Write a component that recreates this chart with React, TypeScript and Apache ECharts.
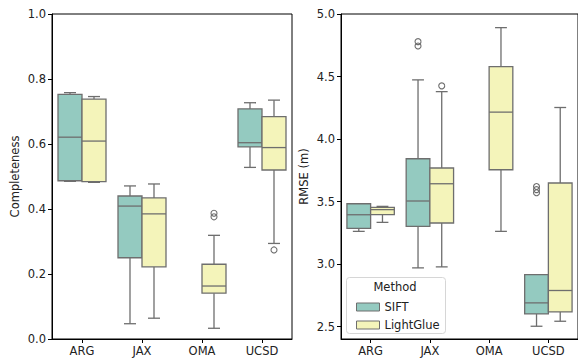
import React, { useEffect, useRef } from "react";
import * as echarts from "echarts";

const categories = ["ARG", "JAX", "OMA", "UCSD"];
const methods = ["SIFT", "LightGlue"];

// each entry: [whiskerLow, q1, median, q3, whiskerHigh]; null = no data
const completenessSIFT = [
  [0.485, 0.487, 0.621, 0.753, 0.758],
  [0.047, 0.25, 0.409, 0.44, 0.471],
  null,
  [0.528, 0.591, 0.604, 0.708, 0.727],
];
const completenessLightGlue = [
  [0.482, 0.484, 0.609, 0.738, 0.746],
  [0.064, 0.222, 0.385, 0.434, 0.477],
  [0.033, 0.141, 0.163, 0.23, 0.319],
  [0.294, 0.52, 0.589, 0.684, 0.735],
];
const completenessOutliersSIFT: [number, number][] = [];
const completenessOutliersLightGlue: [number, number][] = [
  [2, 0.387],
  [2, 0.376],
  [3, 0.274],
];

const rmseSIFT = [
  [3.261, 3.285, 3.394, 3.482, 3.482],
  [2.969, 3.301, 3.504, 3.842, 4.473],
  null,
  [2.502, 2.601, 2.689, 2.915, 2.915],
];
const rmseLightGlue = [
  [3.333, 3.395, 3.435, 3.453, 3.461],
  [2.977, 3.328, 3.642, 3.768, 4.379],
  [3.261, 3.754, 4.215, 4.579, 4.891],
  [2.542, 2.617, 2.788, 3.648, 4.252],
];
const rmseOutliersSIFT: [number, number][] = [
  [1, 4.779],
  [1, 4.744],
  [3, 3.62],
  [3, 3.595],
  [3, 3.57],
];
const rmseOutliersLightGlue: [number, number][] = [[1, 4.425]];

const leftTicks = [0, 0.2, 0.4, 0.6, 0.8, 1.0];
const rightTicks = [2.5, 3.0, 3.5, 4.0, 4.5, 5.0];

const COLORS: Record<string, string> = { SIFT: "#94cac0", LightGlue: "#f4f4ba" };
const LINE = "#6e6e6e";
const LW = 1.3;
const FONT = "DejaVu Sans";
const TEXT = "#222";

function boxData(stats: (number[] | null)[]) {
  const out: number[][] = [];
  stats.forEach((s, i) => {
    if (s) out.push([i, ...s]);
  });
  return out;
}

function makeBoxSeries(name: string, stats: (number[] | null)[], axisIndex: number) {
  const sign = name === "SIFT" ? -1 : 1;
  const fill = COLORS[name];
  return {
    type: "custom",
    name,
    xAxisIndex: axisIndex,
    yAxisIndex: axisIndex,
    itemStyle: { color: fill, borderColor: LINE },
    encode: { x: 0, y: [1, 2, 3, 4, 5] },
    data: boxData(stats),
    renderItem: (_params: any, api: any) => {
      const idx = api.value(0);
      const band = api.size([1, 0])[0];
      const w = band * 0.4;
      const cx = api.coord([idx, api.value(3)])[0] + (sign * w) / 2;
      const yLow = api.coord([idx, api.value(1)])[1];
      const yQ1 = api.coord([idx, api.value(2)])[1];
      const yMed = api.coord([idx, api.value(3)])[1];
      const yQ3 = api.coord([idx, api.value(4)])[1];
      const yHigh = api.coord([idx, api.value(5)])[1];
      const ls = { stroke: LINE, lineWidth: LW };
      const cap = w / 4;
      return {
        type: "group",
        children: [
          { type: "line", shape: { x1: cx, y1: yLow, x2: cx, y2: yQ1 }, style: ls },
          { type: "line", shape: { x1: cx, y1: yQ3, x2: cx, y2: yHigh }, style: ls },
          { type: "line", shape: { x1: cx - cap, y1: yLow, x2: cx + cap, y2: yLow }, style: ls },
          { type: "line", shape: { x1: cx - cap, y1: yHigh, x2: cx + cap, y2: yHigh }, style: ls },
          {
            type: "rect",
            shape: { x: cx - w / 2, y: yQ3, width: w, height: yQ1 - yQ3 },
            style: { fill, stroke: LINE, lineWidth: LW },
          },
          { type: "line", shape: { x1: cx - w / 2, y1: yMed, x2: cx + w / 2, y2: yMed }, style: ls },
        ],
      };
    },
  };
}

function makeOutlierSeries(name: string, pts: [number, number][], axisIndex: number) {
  const sign = name === "SIFT" ? -1 : 1;
  return {
    type: "custom",
    name,
    xAxisIndex: axisIndex,
    yAxisIndex: axisIndex,
    itemStyle: { color: COLORS[name], borderColor: LINE },
    encode: { x: 0, y: 1 },
    data: pts,
    renderItem: (_params: any, api: any) => {
      const idx = api.value(0);
      const band = api.size([1, 0])[0];
      const w = band * 0.4;
      const p = api.coord([idx, api.value(1)]);
      return {
        type: "circle",
        shape: { cx: p[0] + (sign * w) / 2, cy: p[1], r: 3 },
        style: { fill: "none", stroke: LINE, lineWidth: 1.1 },
      };
    },
  };
}

function xAxis(gridIndex: number) {
  return {
    type: "category",
    gridIndex,
    data: categories,
    boundaryGap: true,
    axisLine: { show: true, lineStyle: { color: "#000", width: 1 } },
    axisTick: { show: true, alignWithLabel: true, length: 4, lineStyle: { color: "#000" } },
    axisLabel: { color: TEXT, fontFamily: FONT, fontSize: 11.5, margin: 6 },
    splitLine: { show: false },
  };
}

function yAxis(gridIndex: number, min: number, max: number, ticks: number[], name: string, gap: number) {
  return {
    type: "value",
    gridIndex,
    min,
    max,
    name,
    nameLocation: "middle",
    nameGap: gap,
    nameTextStyle: { color: TEXT, fontFamily: FONT, fontSize: 11.5 },
    axisLine: { show: true, lineStyle: { color: "#000", width: 1 } },
    axisTick: { show: true, length: 4, lineStyle: { color: "#000" }, customValues: ticks },
    axisLabel: {
      color: TEXT,
      fontFamily: FONT,
      fontSize: 11.5,
      margin: 6,
      customValues: ticks,
      formatter: (v: number) => v.toFixed(1),
    },
    splitLine: { show: false },
  };
}

export default function App() {
  const ref = useRef<HTMLDivElement>(null);
  useEffect(() => {
    if (!ref.current) return;
    const chart = echarts.init(ref.current, null, { renderer: "svg" });
    chart.setOption({
      animation: false,
      backgroundColor: "#fff",
      grid: [
        { left: 52, top: 14, width: 240, height: 325, show: true, borderColor: "#000", borderWidth: 1, backgroundColor: "transparent" },
        { left: 341, top: 14, width: 240, height: 325, show: true, borderColor: "#000", borderWidth: 1, backgroundColor: "transparent" },
      ],
      xAxis: [xAxis(0), xAxis(1)],
      yAxis: [
        yAxis(0, 0, 1, leftTicks, "Completeness", 31),
        yAxis(1, 2.4, 5.0, rightTicks, "RMSE (m)", 31),
      ],
      legend: {
        data: methods.map((m) => ({
          name: m,
          icon: "rect",
          itemStyle: { color: COLORS[m], borderColor: LINE, borderWidth: 1 },
        })),
        orient: "vertical",
        left: 351,
        top: 296,
        itemWidth: 23,
        itemHeight: 8,
        itemGap: 6,
        textStyle: { color: TEXT, fontFamily: FONT, fontSize: 11.5 },
        selectedMode: false,
      },
      graphic: [
        {
          type: "rect",
          left: 346,
          top: 277,
          z: -1,
          shape: { width: 99, height: 56, r: 3 },
          style: { fill: "rgba(255,255,255,0.85)", stroke: "#d6d6d6", lineWidth: 1 },
        },
        {
          type: "text",
          x: 395,
          y: 287,
          style: {
            text: "Method",
            fill: TEXT,
            font: `11.5px ${FONT}`,
            align: "center",
            verticalAlign: "middle",
          },
        },
      ],
      series: [
        makeBoxSeries("SIFT", completenessSIFT, 0),
        makeBoxSeries("LightGlue", completenessLightGlue, 0),
        makeOutlierSeries("SIFT", completenessOutliersSIFT, 0),
        makeOutlierSeries("LightGlue", completenessOutliersLightGlue, 0),
        makeBoxSeries("SIFT", rmseSIFT, 1),
        makeBoxSeries("LightGlue", rmseLightGlue, 1),
        makeOutlierSeries("SIFT", rmseOutliersSIFT, 1),
        makeOutlierSeries("LightGlue", rmseOutliersLightGlue, 1),
      ],
    });
    return () => chart.dispose();
  }, []);
  return (
    <div
      ref={ref}
      style={{ position: "fixed", left: 0, top: 0, width: 578, height: 362 }}
    />
  );
}
